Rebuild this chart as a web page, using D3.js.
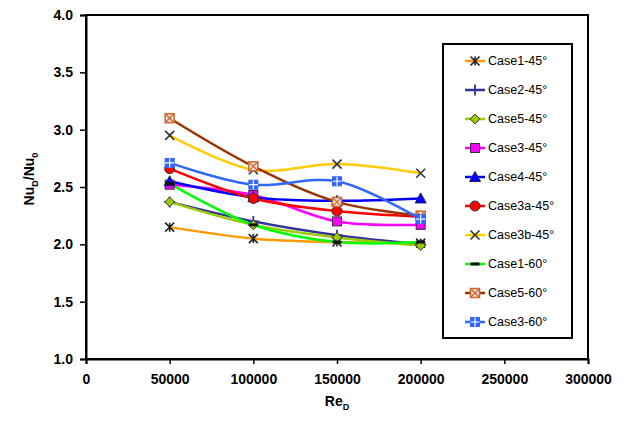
<!DOCTYPE html>
<html>
<head>
<meta charset="utf-8">
<script src="https://cdn.jsdelivr.net/npm/d3@7"></script>
<style>
  body { margin: 0; background: #fff; }
  svg { font-family: "Liberation Sans", Arial, sans-serif; }
</style>
</head>
<body>
<div id="chart"></div>
<script>
// Data
const reValues = [50000, 100000, 150000, 200000];
const seriesNames = ["Case1-45°", "Case2-45°", "Case5-45°", "Case3-45°", "Case4-45°",
  "Case3a-45°", "Case3b-45°", "Case1-60°", "Case5-60°", "Case3-60°"];
const case1_45 = [2.15, 2.05, 2.02, 2.01];
const case2_45 = [2.37, 2.20, 2.08, 2.00];
const case5_45 = [2.37, 2.17, 2.06, 1.99];
const case3_45 = [2.52, 2.43, 2.20, 2.17];
const case4_45 = [2.55, 2.41, 2.38, 2.40];
const case3a_45 = [2.66, 2.40, 2.29, 2.24];
const case3b_45 = [2.95, 2.65, 2.70, 2.62];
const case1_60 = [2.53, 2.17, 2.02, 2.02];
const case5_60 = [3.10, 2.68, 2.37, 2.25];
const case3_60 = [2.71, 2.52, 2.55, 2.22];
const xTicks = [0, 50000, 100000, 150000, 200000, 250000, 300000];
const yTicks = [1.0, 1.5, 2.0, 2.5, 3.0, 3.5, 4.0];

const seriesValues = [case1_45, case2_45, case5_45, case3_45, case4_45,
  case3a_45, case3b_45, case1_60, case5_60, case3_60];
const lineColors = ["#FF9900", "#333399", "#99CC00", "#FF00FF", "#0000FF",
  "#FF0000", "#FFCC00", "#00FF00", "#993300", "#3366FF"];
const markerTypes = ["asterisk", "plus", "diamond", "square", "triangle",
  "circle", "cross", "dash", "boxcross", "boxplus"];

const width = 626, height = 422;
const margin = { top: 15, right: 38, bottom: 63, left: 86 };

const svg = d3.select("#chart").append("svg")
  .attr("width", width)
  .attr("height", height);

const x = d3.scaleLinear().domain([0, 300000]).range([margin.left, width - margin.right]);
const y = d3.scaleLinear().domain([1, 4]).range([height - margin.bottom, margin.top]);

// plot frame
svg.append("rect")
  .attr("x", x(0)).attr("y", y(4))
  .attr("width", x(300000) - x(0)).attr("height", y(1) - y(4))
  .attr("fill", "none").attr("stroke", "#000").attr("stroke-width", 2);

// axes
const xAxis = svg.append("g")
  .attr("transform", `translate(0,${y(1)})`)
  .call(d3.axisBottom(x).tickValues(xTicks).tickSize(5).tickPadding(10).tickFormat(d3.format("d")));
const yAxis = svg.append("g")
  .attr("transform", `translate(${x(0)},0)`)
  .call(d3.axisLeft(y).tickValues(yTicks).tickSize(6).tickPadding(7).tickFormat(d3.format(".1f")));

[xAxis, yAxis].forEach(g => {
  g.select(".domain").attr("stroke-width", 2);
  g.selectAll(".tick line").attr("stroke-width", 1.5);
  g.selectAll("text")
    .attr("font-size", 14).attr("font-weight", "bold")
    .attr("font-family", "'Liberation Sans', Arial, sans-serif").attr("fill", "#000");
});

// axis titles
const yTitle = svg.append("text")
  .attr("transform", `translate(34,${(y(4) + y(1)) / 2 - 8}) rotate(-90)`)
  .attr("text-anchor", "middle")
  .attr("font-size", 14).attr("font-weight", "bold");
yTitle.append("tspan").text("Nu");
yTitle.append("tspan").attr("font-size", 9).attr("dy", 4).text("D");
yTitle.append("tspan").attr("dy", -4).text("/Nu");
yTitle.append("tspan").attr("font-size", 9).attr("dy", 4).text("0");

const xTitle = svg.append("text")
  .attr("x", (x(0) + x(300000)) / 2).attr("y", 406)
  .attr("text-anchor", "middle")
  .attr("font-size", 14).attr("font-weight", "bold");
xTitle.append("tspan").text("Re");
xTitle.append("tspan").attr("font-size", 9).attr("dy", 4).text("D");

// marker drawing
function drawMarker(g, type, cx, cy, color) {
  const m = g.append("g").attr("transform", `translate(${cx},${cy})`);
  const s = 4.5;
  switch (type) {
    case "asterisk":
      m.append("path").attr("d", `M${-s},${-s}L${s},${s}M${-s},${s}L${s},${-s}M0,${-s}L0,${s}`)
        .attr("stroke", "#222").attr("stroke-width", 1.6).attr("fill", "none");
      break;
    case "plus":
      m.append("path").attr("d", `M${-s - 1},0L${s + 1},0M0,${-s - 1}L0,${s + 1}`)
        .attr("stroke", color).attr("stroke-width", 1.8).attr("fill", "none");
      break;
    case "diamond":
      m.append("path").attr("d", d3.symbol(d3.symbolDiamond2, 60)())
        .attr("fill", color).attr("stroke", "#333").attr("stroke-width", 1);
      break;
    case "square":
      m.append("rect").attr("x", -s).attr("y", -s).attr("width", 2 * s).attr("height", 2 * s)
        .attr("fill", color).attr("stroke", "#333").attr("stroke-width", 1);
      break;
    case "triangle":
      m.append("path").attr("d", `M0,${-s - 1}L${s + 1},${s}L${-s - 1},${s}Z`)
        .attr("fill", color).attr("stroke", "#222266").attr("stroke-width", 1);
      break;
    case "circle":
      m.append("circle").attr("r", s + 0.5)
        .attr("fill", color).attr("stroke", "#333").attr("stroke-width", 1);
      break;
    case "cross":
      m.append("path").attr("d", `M${-s},${-s}L${s},${s}M${-s},${s}L${s},${-s}`)
        .attr("stroke", "#333").attr("stroke-width", 1.6).attr("fill", "none");
      break;
    case "dash":
      m.append("rect").attr("x", -s).attr("y", -1.5).attr("width", 2 * s).attr("height", 3)
        .attr("fill", "#111");
      break;
    case "boxcross":
      m.append("rect").attr("x", -s).attr("y", -s).attr("width", 2 * s).attr("height", 2 * s)
        .attr("fill", "#f3e0d6").attr("stroke", "#CC6633").attr("stroke-width", 1.5);
      m.append("path").attr("d", `M${-s},${-s}L${s},${s}M${-s},${s}L${s},${-s}`)
        .attr("stroke", "#CC6633").attr("stroke-width", 1.3).attr("fill", "none");
      break;
    case "boxplus":
      m.append("rect").attr("x", -s).attr("y", -s).attr("width", 2 * s).attr("height", 2 * s)
        .attr("fill", color).attr("stroke", color).attr("stroke-width", 1);
      m.append("path").attr("d", `M${-s},0L${s},0M0,${-s}L0,${s}`)
        .attr("stroke", "#fff").attr("stroke-width", 1.2).attr("fill", "none");
      break;
  }
}

const line = d3.line()
  .x(d => x(d.re))
  .y(d => y(d.v))
  .curve(d3.curveCatmullRom.alpha(0.5));

const plot = svg.append("g");
seriesValues.forEach((vals, i) => {
  const pts = vals.map((v, j) => ({ re: reValues[j], v }));
  plot.append("path")
    .datum(pts)
    .attr("d", line)
    .attr("fill", "none")
    .attr("stroke", lineColors[i])
    .attr("stroke-width", 2.5);
});
seriesValues.forEach((vals, i) => {
  vals.forEach((v, j) => drawMarker(plot, markerTypes[i], x(reValues[j]), y(v), lineColors[i]));
});

// legend
const legend = svg.append("g");
legend.append("rect")
  .attr("x", 443).attr("y", 44).attr("width", 129).attr("height", 294)
  .attr("fill", "#fff").attr("stroke", "#000").attr("stroke-width", 2);
seriesNames.forEach((name, i) => {
  const ly = 61 + i * 29;
  legend.append("line")
    .attr("x1", 465).attr("x2", 485).attr("y1", ly).attr("y2", ly)
    .attr("stroke", lineColors[i]).attr("stroke-width", 2.5);
  drawMarker(legend, markerTypes[i], 475, ly, lineColors[i]);
  legend.append("text")
    .attr("x", 488).attr("y", ly + 4)
    .attr("font-size", 12.5)
    .text(name);
});
</script>
</body>
</html>
